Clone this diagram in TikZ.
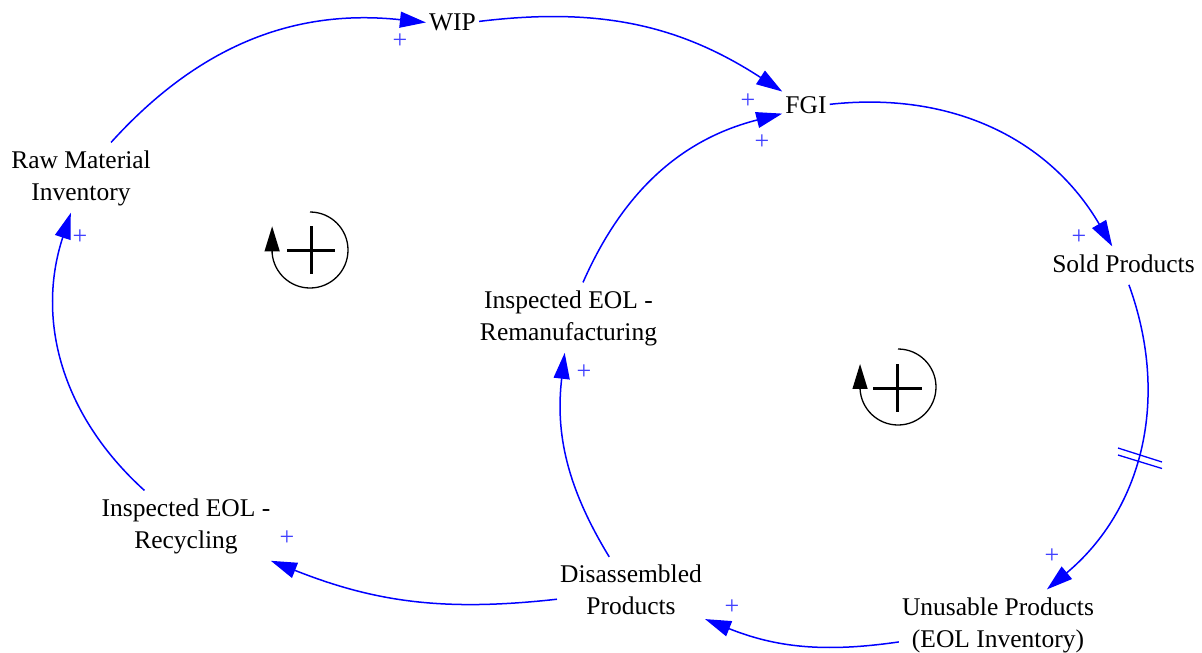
\documentclass[tikz,border=0pt]{standalone}
\usepackage{fontspec}
\setmainfont{Liberation Serif}
\newfontfamily\labelfont{Liberation Serif}
\usetikzlibrary{arrows.meta}

\begin{document}
\begin{tikzpicture}[x=1pt,y=-1pt,
  var/.style={inner sep=3pt, align=center, font=\labelfont\fontsize{25.5}{32}\selectfont},
  link/.style={draw=blue, line width=1.5pt, -{Triangle[length=26pt,width=16pt]}},
  pol/.style={text=blue!75, font=\labelfont\fontsize{26}{30}\selectfont, inner sep=0pt},
  loopring/.style={line width=1.3pt, -{Triangle[length=25pt,width=15pt]}},
  loopsign/.style={line width=3pt}]
\useasboundingbox (0,0) rectangle (1202,653);

% stock and flow variables
\node[var] (raw)   at (81,177.6)   {\strut Raw Material\\\strut Inventory};
\node[var] (wip)   at (452.5,24.6) {\strut WIP};
\node[var] (fgi)   at (806,107)    {\strut FGI};
\node[var] (sold)  at (1123.5,265.6) {\strut Sold Products};
\node[var] (reman) at (568.5,317.6) {\strut Inspected EOL -\\\strut Remanufacturing};
\node[var] (dis)   at (631,592.1)  {\strut Disassembled\\\strut Products};
\node[var] (recyc) at (186,525.6)  {\strut Inspected EOL -\\\strut Recycling};
\node[var] (unus)  at (998,624.6)  {\strut Unusable Products\\\strut (EOL Inventory)};

% causal links
\draw[link] (raw)   to[bend left=27] (wip);
\draw[link] (wip)   to[bend left=20] (fgi);
\draw[link] (reman) to[bend left=26] (fgi);
\draw[link] (fgi)   to[bend left=33] (sold);
\draw[link] (sold)  to[bend left=35] (unus);
\draw[link] (unus)  to[bend left=15] (dis);
\draw[link] (dis)   to[bend left=19] (reman);
\draw[link] (dis)   to[bend left=14] (recyc);
\draw[link] (recyc) to[bend left=33] (raw);

% delay mark
\draw[blue, line width=1.3pt] (1118,448) -- (1162,462);
\draw[blue, line width=1.3pt] (1118,455) -- (1162,468.5);

% link polarities
\node[pol] (p1) at (400,41)   {+};
\node[pol] (p2) at (748,101)  {+};
\node[pol] (p3) at (762,142)  {+};
\node[pol] (p4) at (1079,237) {+};
\node[pol] (p5) at (1052,556) {+};
\node[pol] (p6) at (732,607)  {+};
\node[pol] (p7) at (584,372)  {+};
\node[pol] (p8) at (287,538)  {+};
\node[pol] (p9) at (80,237)   {+};

% reinforcing loop markers
\coordinate (loopA) at (310,250);
\draw[loopring] (loopA) ++(-90:38) arc[start angle=-90, end angle=175, radius=38] -- ++(0,-27);
\draw[loopsign] (311,226) -- (311,274) (287,250) -- (335,250);

\coordinate (loopB) at (898,387);
\draw[loopring] (loopB) ++(-90:38) arc[start angle=-90, end angle=177, radius=38] -- ++(0,-25);
\draw[loopsign] (897,364) -- (897,412) (873,388) -- (922,388);
\end{tikzpicture}
\end{document}
